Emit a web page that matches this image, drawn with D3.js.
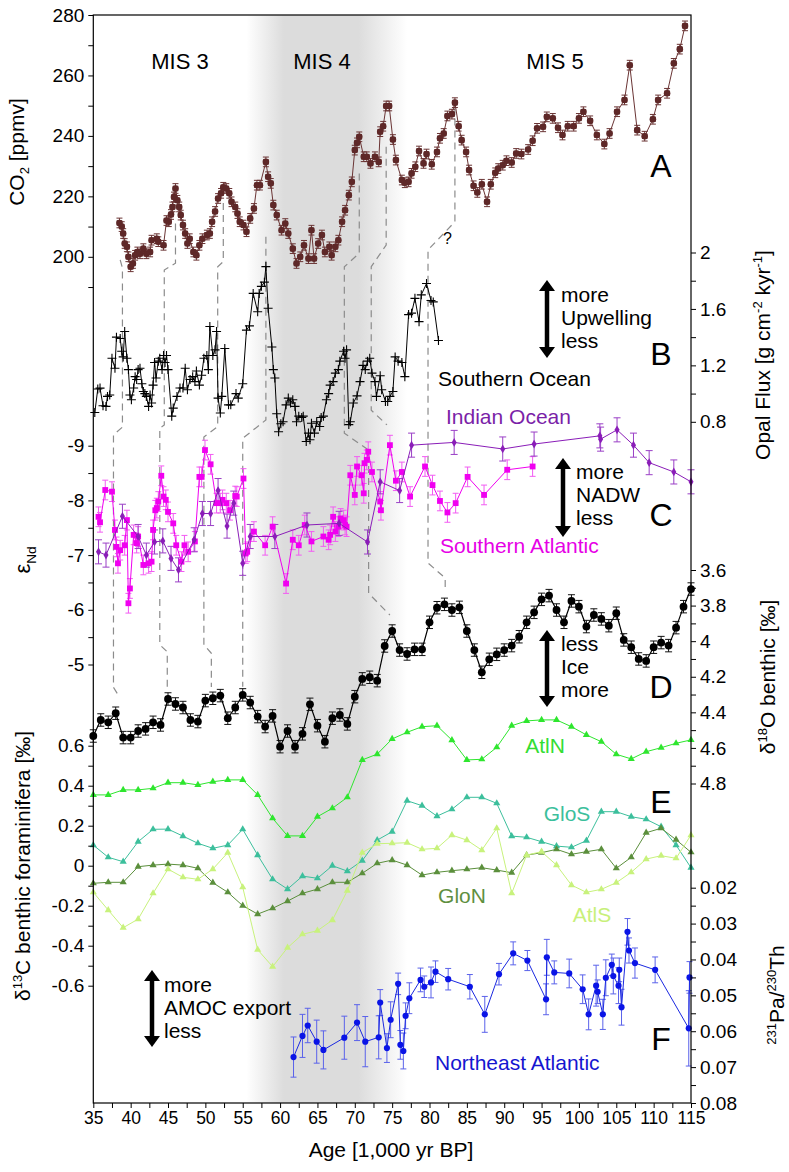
<!DOCTYPE html>
<html><head><meta charset="utf-8">
<script src="https://cdn.jsdelivr.net/npm/d3@7"></script>
<style>
body{margin:0;background:#fff}
text{font-family:"Liberation Sans",Arial,Helvetica,sans-serif;fill:#000}
</style>
</head><body>
<svg id="c" width="789" height="1172"></svg>
<script>
// ---------------- DATA ----------------
// Panel A: CO2 [ppmv] vs age (kyr BP)
const co2 = [[38.5,211.2],[38.8,210],[39.0,207.7],[39.2,204.4],[39.5,203.3],[39.7,200],[40.0,196.7],[40.3,197.8],[40.6,200.5],[40.9,201.6],[41.25,201],[41.7,202.7],[42.1,201],[42.6,201.6],[42.8,205.5],[43.5,206],[43.7,205],[44.4,203.8],[44.8,212],[45.1,211.6],[45.4,214],[45.6,216.5],[45.8,219.8],[46.0,222.6],[46.25,218.7],[46.5,216.5],[46.7,213.8],[47.0,210.5],[47.3,207.7],[47.6,204.4],[47.9,206],[48.4,201.6],[48.8,200.5],[49.2,203.8],[49.6,206],[50.2,207.2],[50.6,207.7],[50.9,211.6],[51.3,215],[51.7,219.3],[52.1,221],[52.4,223],[52.8,222.6],[53.2,221],[53.5,218.2],[54.0,216.5],[54.3,214.3],[54.6,211.6],[55.1,210.5],[55.5,208.3],[56.0,212.7],[56.5,216],[56.9,223.7],[57.3,223.7],[58.1,231.4],[58.4,226.5],[58.75,224.3],[59.1,217.1],[59.55,213.8],[60.2,208.8],[60.7,211],[61.1,207.7],[61.7,202.7],[62.2,197.8],[62.7,200],[63.2,203.8],[63.8,199.4],[64.2,208.8],[64.55,199.4],[65.1,204.4],[65.6,207.2],[66.0,201.6],[66.6,203.3],[66.9,200.5],[67.4,203.3],[67.8,205.5],[68.3,211.6],[68.7,215.4],[69.2,220.4],[69.6,224.8],[70.0,235.3],[70.3,237.7],[70.6,239.7],[71.2,233.1],[71.6,233.1],[72.1,230.9],[72.7,233.1],[73.2,231.4],[73.4,241.4],[73.8,243.2],[74.2,249.9],[74.6,249.9],[75.1,238.8],[75.5,232],[76.3,225.4],[76.7,224.5],[77.2,224.8],[77.6,227.6],[78.1,229.8],[78.6,235],[79.2,230.9],[79.6,234],[80.3,230.6],[81.0,234.7],[81.4,239.2],[81.9,240.8],[82.4,246.6],[83.0,247.2],[83.4,251],[83.9,243.2],[84.3,238.6],[84.9,234.7],[85.3,228.7],[85.9,223.5],[86.4,221.3],[87.0,224],[87.7,218.2],[88.2,224],[88.8,227.8],[89.2,229.2],[89.8,230.3],[90.3,231.8],[91.0,231.2],[91.6,234.2],[92.3,234],[93.2,235.5],[93.8,238.4],[94.4,242.5],[95.2,243],[95.7,246.3],[96.5,245.8],[97.2,242.7],[97.8,240.3],[98.5,243.2],[99.3,243.2],[100.0,245.8],[100.6,248],[101.5,245],[102.4,240.3],[103.4,237.3],[104.1,240.8],[105.1,248],[106.1,251.9],[106.8,263.4],[107.8,241.9],[108.8,239.9],[109.9,245.5],[110.6,251.9],[111.8,254.1],[112.7,264],[113.5,268.7],[114.2,276.4]];
const CO2_ERR = 1.6;

// Panel B: Southern Ocean opal flux [g cm-2 kyr-1]
const opal = [[35.2,0.866],[35.6,1.032],[35.9,1.039],[36.3,0.914],[36.7,0.909],[36.9,0.98],[37.2,0.99],[37.5,1.25],[37.9,1.18],[38.1,1.40],[38.6,1.39],[38.8,1.30],[39.0,1.26],[39.2,1.44],[39.5,1.25],[39.7,1.17],[39.9,0.99],[40.1,0.956],[40.4,1.04],[40.6,1.12],[40.8,1.10],[41.0,1.17],[41.25,1.18],[41.5,1.07],[41.7,1.015],[41.9,1.0],[42.1,0.98],[42.4,0.909],[42.6,0.99],[42.8,0.933],[43.0,1.06],[43.2,1.22],[43.4,1.11],[43.7,1.23],[43.9,1.25],[44.2,1.17],[44.4,1.27],[44.6,1.22],[44.8,1.27],[45.0,1.17],[45.5,0.84],[45.7,0.897],[46.2,0.98],[46.6,1.04],[47.0,1.04],[47.3,1.18],[47.6,1.027],[47.95,1.10],[48.3,1.12],[48.6,1.085],[48.8,1.16],[49.2,1.06],[49.5,1.13],[49.8,1.25],[50.2,1.27],[50.4,1.17],[50.6,1.475],[51.0,1.27],[51.3,1.31],[51.5,1.44],[51.7,0.968],[52.0,0.862],[52.2,0.98],[52.6,1.32],[53.1,0.92],[53.4,0.92],[54.1,1.0],[54.4,0.968],[55.0,1.07],[55.5,1.45],[55.9,1.48],[56.4,1.71],[57.0,1.58],[57.2,1.71],[57.5,1.76],[57.9,1.79],[58.1,1.90],[58.4,1.605],[58.9,1.33],[59.1,1.17],[59.3,1.11],[59.55,0.857],[59.8,0.73],[60.1,0.786],[60.4,0.80],[60.8,0.92],[61.1,0.968],[61.4,0.933],[61.7,0.956],[62.0,0.909],[62.2,0.80],[62.5,0.84],[62.9,0.83],[63.1,0.84],[63.5,0.66],[63.8,0.72],[64.0,0.673],[64.2,0.79],[64.6,0.72],[64.9,0.80],[65.3,0.767],[65.5,0.83],[65.8,0.84],[66.2,0.956],[66.5,1.0],[66.7,1.06],[67.1,1.085],[67.4,1.145],[67.8,1.17],[68.0,1.23],[68.5,1.30],[68.7,1.25],[68.9,1.31],[69.2,0.78],[69.4,0.80],[69.8,0.933],[70.3,0.984],[70.7,1.085],[71.1,1.20],[71.4,1.17],[71.7,1.23],[72.0,1.25],[72.3,1.145],[72.7,1.085],[72.9,0.98],[73.4,1.126],[73.6,1.027],[74.1,0.944],[74.4,0.944],[74.7,0.98],[75.1,1.015],[75.4,1.26],[75.8,1.23],[76.3,1.22],[76.7,1.12],[77.2,1.56],[77.6,1.57],[78.05,1.675],[78.6,1.51],[78.9,1.70],[79.6,1.78],[80.2,1.66],[80.5,1.65],[81.2,1.376]];

// Panel C: eNd, Southern Atlantic and Indian Ocean
const southAtl = [[35.7,-7.70],[35.9,-7.60],[36.6,-8.19],[37.5,-8.16],[37.9,-7.46],[38.1,-7.15],[38.3,-6.85],[38.6,-7.09],[39.2,-7.18],[39.5,-7.64],[39.7,-6.12],[39.9,-6.39],[40.4,-7.37],[40.8,-7.22],[41.0,-7.34],[41.7,-6.82],[42.4,-6.85],[42.8,-6.88],[43.0,-7.46],[43.3,-7.82],[43.5,-7.86],[43.7,-7.98],[44.1,-8.45],[44.4,-8.07],[44.7,-8.01],[45.0,-7.79],[45.7,-7.58],[46.1,-7.18],[46.8,-6.88],[47.2,-7.18],[47.7,-7.06],[48.6,-7.25],[49.2,-8.43],[49.5,-8.43],[49.95,-8.92],[50.7,-8.66],[51.5,-7.95],[52.0,-7.95],[52.3,-8.01],[52.8,-7.95],[53.3,-7.82],[54.0,-8.08],[54.2,-8.07],[55.1,-8.40],[55.4,-7.03],[55.6,-7.06],[56.5,-7.43],[58.0,-7.18],[59.0,-7.52],[60.8,-6.48],[61.7,-7.28],[62.5,-7.18],[63.3,-7.55],[64.2,-7.25],[65.8,-7.34],[66.5,-7.28],[66.7,-7.37],[67.1,-7.70],[67.4,-7.43],[67.8,-7.52],[68.1,-7.67],[68.5,-7.64],[68.7,-7.55],[68.9,-7.52],[69.4,-8.46],[70.0,-8.10],[70.3,-8.62],[70.9,-8.46],[71.2,-8.13],[71.3,-8.68],[71.6,-8.74],[71.8,-8.89],[72.3,-8.52],[73.4,-7.98],[73.5,-7.82],[74.7,-9.01],[75.5,-8.36],[76.3,-8.52],[77.4,-8.07],[79.4,-8.62],[80.4,-8.28],[81.4,-7.99],[82.4,-7.78],[83.5,-7.95],[85.1,-8.43],[87.3,-8.10],[90.4,-8.56],[93.8,-8.62]];
const SA_ERR = 0.18;
const indian = [[35.7,-7.06],[36.7,-7.00],[38.9,-7.71],[41.0,-7.34],[42.1,-7.00],[43.2,-7.24],[44.3,-7.26],[45.4,-6.94],[46.4,-6.73],[48.5,-7.28],[49.6,-7.76],[50.7,-7.76],[51.7,-8.18],[52.9,-7.53],[53.8,-7.95],[55.0,-6.85],[56.0,-7.34],[59.3,-7.34],[63.6,-7.55],[67.9,-7.58],[71.7,-7.24],[73.4,-8.34],[76.0,-8.18],[77.6,-9.01],[83.3,-9.06],[89.8,-8.94],[94.0,-9.03],[102.8,-9.18],[102.9,-9.12],[105.1,-9.29],[107.3,-9.01],[109.4,-8.69],[112.7,-8.52],[115.0,-8.34]];
const IO_ERR = 0.22;

// Panel D: benthic d18O [permil]
const d18o = [[35,4.533],[36,4.443],[37,4.456],[38,4.405],[39,4.542],[40,4.542],[41,4.505],[42,4.493],[43,4.456],[44,4.471],[45,4.325],[46,4.353],[47,4.373],[48,4.443],[49,4.452],[50,4.334],[51,4.321],[52,4.306],[53,4.433],[54,4.373],[55,4.302],[56,4.345],[57,4.424],[58,4.48],[59,4.42],[60,4.593],[61,4.505],[62,4.593],[63,4.521],[64,4.355],[65,4.475],[66,4.565],[67,4.433],[68,4.415],[69,4.465],[70,4.312],[71,4.212],[72,4.203],[73,4.222],[74,4.027],[75,3.943],[76,4.05],[77,4.072],[78,4.046],[79,4.046],[80,3.894],[81,3.812],[82,3.793],[83,3.825],[84,3.81],[85,3.943],[86,4.05],[87,4.175],[88,4.102],[89,4.074],[90,4.05],[91,4.025],[92,3.975],[93,3.894],[94,3.838],[95,3.765],[96,3.744],[97,3.825],[98,3.894],[99,3.774],[100,3.806],[101,3.918],[102,3.853],[103,3.875],[104,3.913],[105,3.843],[106,3.993],[107,4.034],[108,4.1],[109,4.111],[110,4.034],[111,4.008],[112,4.025],[113,3.924],[114,3.806],[115,3.707]];
const D18_ERR = 0.035;

// Panel E: benthic d13C [permil] stacks
const E_AGES = [35,37,39,41,43,45,47,49,51,53,55,57,59,61,63,65,67,69,71,73,75,77,79,81,83,85,87,89,91,93,95,97,99,101,103,105,107,109,111,113,115];
const atlN = [0.354,0.354,0.379,0.379,0.387,0.415,0.415,0.404,0.42,0.429,0.429,0.354,0.237,0.149,0.149,0.245,0.287,0.342,0.529,0.558,0.634,0.667,0.695,0.70,0.628,0.529,0.532,0.592,0.70,0.724,0.729,0.729,0.695,0.654,0.62,0.557,0.534,0.57,0.59,0.612,0.629];
const gloS = [0.103,0.042,0.02,0.12,0.182,0.183,0.148,0.112,0.087,0.103,0.182,0.053,-0.068,-0.117,-0.052,-0.063,0.0,-0.027,0.025,0.128,0.17,0.325,0.30,0.248,0.282,0.342,0.342,0.312,0.148,0.142,0.12,0.098,0.092,0.125,0.27,0.27,0.245,0.232,0.195,0.103,-0.01];
const gloN = [-0.088,-0.083,-0.083,-0.005,0.003,0.008,0.003,-0.013,-0.085,-0.133,-0.2,-0.242,-0.213,-0.177,-0.138,-0.117,-0.083,-0.083,-0.038,0.012,0.028,0.003,-0.047,-0.033,-0.025,-0.018,-0.01,-0.022,-0.035,0.053,0.065,0.082,0.057,0.07,0.082,-0.013,0.042,0.165,0.187,0.13,0.067];
const atlS = [-0.133,-0.222,-0.31,-0.267,-0.138,-0.017,-0.058,-0.068,-0.017,0.065,-0.108,-0.42,-0.505,-0.41,-0.343,-0.325,-0.272,-0.125,0.065,0.11,0.112,0.115,0.082,0.087,0.153,0.128,0.078,0.187,-0.138,0.053,0.07,0.003,-0.097,-0.133,-0.118,-0.085,-0.033,0.033,0.05,0.037,0.153];

// Panel F: Northeast Atlantic 231Pa/230Th [age, value, error]
const paTh = [[61.8,0.0672,0.0056],[63.0,0.0613,0.006],[63.7,0.0584,0.0048],[64.9,0.0629,0.006],[65.8,0.0652,0.0053],[68.6,0.0618,0.006],[70.3,0.0576,0.005],[71.4,0.0629,0.007],[73.2,0.0617,0.006],[73.4,0.052,0.0036],[74.3,0.0647,0.004],[74.8,0.0568,0.005],[75.8,0.0468,0.003],[76.1,0.0638,0.004],[76.5,0.0655,0.005],[76.8,0.0557,0.0036],[77.3,0.0508,0.0043],[78.8,0.0457,0.0033],[79.3,0.0476,0.003],[80.2,0.0464,0.0043],[80.8,0.0434,0.003],[82.5,0.0455,0.003],[85.4,0.0476,0.0034],[87.4,0.0553,0.005],[89.3,0.0441,0.003],[91.2,0.0383,0.0032],[93.1,0.0403,0.0028],[95.6,0.0511,0.0043],[95.7,0.0394,0.005],[96.7,0.0436,0.0032],[98.7,0.0439,0.004],[100.5,0.0483,0.004],[101.3,0.0553,0.0043],[102.3,0.0473,0.0057],[102.5,0.049,0.0033],[103.2,0.0553,0.0042],[103.6,0.0451,0.005],[104.4,0.0415,0.003],[104.6,0.0446,0.005],[105.3,0.0473,0.005],[105.4,0.0429,0.0033],[105.7,0.0533,0.005],[106.5,0.0323,0.0037],[106.7,0.0375,0.0035],[107.5,0.041,0.0042],[110.2,0.0429,0.0036],[114.7,0.0592,0.0105],[114.8,0.045,0.0044]];

// Dashed correlation lines: [age, axis, value]
const connectors = [
  [[38.6,'co2',199.0],[38.9,'co2',196.3],[38.9,'nd',-9.34],[37.7,'nd',-9.2],[37.7,'d18',4.26],[38.3,'d18',4.30]],
  [[46.0,'co2',211],[46.0,'co2',197.9],[44.5,'co2',195.6],[44.5,'nd',-9.38],[43.9,'nd',-9.32],[43.9,'d18',4.02],[44.9,'d18',4.06],[44.9,'d18',4.275]],
  [[52.4,'co2',217.8],[52.4,'co2',198.4],[51.65,'co2',196.7],[51.65,'nd',-9.35],[49.8,'nd',-9.16],[49.8,'d18',4.02],[50.8,'d18',4.068],[50.8,'d18',4.258]],
  [[58.1,'co2',206.6],[58.1,'nd',-9.47],[55.0,'nd',-9.135],[55.0,'d18',4.256]],
  [[70.6,'co2',227.6],[70.6,'co2',201.2],[68.6,'co2',196.7],[68.6,'nd',-9.23],[71.85,'nd',-8.92],[71.85,'d18',3.731],[74.7,'d18',3.853]],
  [[74.2,'co2',236.4],[74.2,'co2',203.9],[72.2,'co2',196.7],[72.2,'nd',-9.65],[74.3,'nd',-9.38]],
  [[83.4,'co2',249.7],[83.4,'co2',211.6],[79.8,'opal',2.018],[79.8,'d18',3.561],[82.1,'d18',3.645],[82.1,'d18',3.70]]
];

// Tick values / labels
const AGE_TICKS = [35,37.5,40,42.5,45,47.5,50,52.5,55,57.5,60,62.5,65,67.5,70,72.5,75,77.5,80,82.5,85,87.5,90,92.5,95,97.5,100,102.5,105,107.5,110,112.5,115];
const AGE_LABELS = [35,40,45,50,55,60,65,70,75,80,85,90,95,100,105,110,115];
const CO2_TICKS = [190,200,210,220,230,240,250,260,270,280];
const CO2_LABELS = [200,220,240,260,280];
const ND_TICKS = [-9,-8.5,-8,-7.5,-7,-6.5,-6,-5.5,-5];
const ND_LABELS = [-9,-8,-7,-6,-5];
const C13_TICKS = [-0.6,-0.5,-0.4,-0.3,-0.2,-0.1,0,0.1,0.2,0.3,0.4,0.5,0.6];
const C13_LABELS = [-0.6,-0.4,-0.2,0,0.2,0.4,0.6];
const OPAL_TICKS = [0.8,1,1.2,1.4,1.6,1.8,2];
const OPAL_LABELS = [0.8,1.2,1.6,2];
const O18_TICKS = [3.6,3.7,3.8,3.9,4,4.1,4.2,4.3,4.4,4.5,4.6,4.7,4.8];
const O18_LABELS = [3.6,3.8,4,4.2,4.4,4.6,4.8];
const PA_TICKS = [0.02,0.025,0.03,0.035,0.04,0.045,0.05,0.055,0.06,0.065,0.07,0.075,0.08];
const PA_LABELS = [0.02,0.03,0.04,0.05,0.06,0.07,0.08];

// ---------------- DRAWING ----------------
const L = 93.3, R = 691, T = 15, B = 1103;
const svg = d3.select("#c");
svg.append("rect").attr("width",789).attr("height",1172).attr("fill","#fff");

const x = d3.scaleLinear().domain([35,115]).range([L,R]);
const yCO2 = d3.scaleLinear().domain([200,280]).range([256.8,15]);
const yOpal = d3.scaleLinear().domain([0.8,2]).range([421.8,252.5]);
const yNd = d3.scaleLinear().domain([-9,-5]).range([445.7,664.5]);
const yO18 = d3.scaleLinear().domain([3.6,4.8]).range([570,783.5]);
const yC13 = d3.scaleLinear().domain([-0.6,0.6]).range([985.7,745.7]);
const yPa = d3.scaleLinear().domain([0.02,0.08]).range([887.7,1103]);
const scales = {co2:yCO2, opal:yOpal, nd:yNd, d18:yO18};

// MIS 4 shading
const defs = svg.append("defs");
const g0 = x(55.5), g1 = x(77);
const grad = defs.append("linearGradient").attr("id","mis4").attr("gradientUnits","userSpaceOnUse")
  .attr("x1",g0).attr("x2",g1).attr("y1",0).attr("y2",0);
[[0,0],[(60.5-55.5)/21.5,1],[(70.5-55.5)/21.5,1],[1,0]].forEach(s=>{
  grad.append("stop").attr("offset",s[0]).attr("stop-color","#dcdcdc").attr("stop-opacity",s[1]);
});
svg.append("rect").attr("x",g0).attr("y",T).attr("width",g1-g0).attr("height",B-T).attr("fill","url(#mis4)");

// connectors
const cl = svg.append("g");
connectors.forEach(c=>{
  cl.append("path").attr("d", d3.line()(c.map(p=>[x(p[0]), scales[p[1]](p[2])])))
    .attr("fill","none").attr("stroke","#8c8c8c").attr("stroke-width",1.2).attr("stroke-dasharray","7,5");
});
svg.append("text").attr("x",443).attr("y",244).attr("font-size",16).text("?");

// helpers
function errBars(g, data, ys, errFn, color, cap, sw){
  data.forEach(d=>{
    const e = errFn(d);
    const y1 = ys(d[1]-e), y2 = ys(d[1]+e), xx = x(d[0]);
    g.append("line").attr("x1",xx).attr("x2",xx).attr("y1",y1).attr("y2",y2).attr("stroke",color).attr("stroke-width",sw||1);
    g.append("line").attr("x1",xx-cap).attr("x2",xx+cap).attr("y1",y1).attr("y2",y1).attr("stroke",color).attr("stroke-width",sw||1);
    g.append("line").attr("x1",xx-cap).attr("x2",xx+cap).attr("y1",y2).attr("y2",y2).attr("stroke",color).attr("stroke-width",sw||1);
  });
}
function series(data, ys, color, width){
  svg.append("path").attr("d", d3.line().x(d=>x(d[0])).y(d=>ys(d[1]))(data))
    .attr("fill","none").attr("stroke",color).attr("stroke-width",width||1);
}
function markers(data, ys, type, size, color, stroke){
  const sym = d3.symbol().type(type).size(size);
  svg.append("g").selectAll("path").data(data).join("path")
    .attr("transform",d=>`translate(${x(d[0])},${ys(d[1])})`)
    .attr("d",sym).attr("fill",color).attr("stroke",stroke||"none");
}

// Panel A
const gA = svg.append("g");
errBars(gA, co2, yCO2, ()=>CO2_ERR, "#6a3434", 3, 1);
series(co2, yCO2, "#6a3434", 1);
markers(co2, yCO2, d3.symbolSquare, 30, "#5e2828");
markers(co2, yCO2, d3.symbolCircle, 34, "#5e2828");

// Panel B
series(opal, yOpal, "#000", 1);
svg.append("g").selectAll("path").data(opal).join("path")
  .attr("transform",d=>`translate(${x(d[0])},${yOpal(d[1])})`)
  .attr("d","M-4.5,0H4.5M0,-4.5V4.5").attr("stroke","#000").attr("stroke-width",1.1);

// Panel C
const gC = svg.append("g");
errBars(gC, southAtl, yNd, ()=>SA_ERR, "#f25cf2", 3, 1);
series(southAtl, yNd, "#f000f0", 1);
markers(southAtl, yNd, d3.symbolSquare, 34, "#f000f0");
errBars(gC, indian, yNd, ()=>IO_ERR, "#9a3fc6", 3.5, 1);
series(indian, yNd, "#8a1db8", 1);
markers(indian, yNd, d3.symbolDiamond, 22, "#8a1db8");

// Panel D
const gD = svg.append("g");
errBars(gD, d18o, yO18, ()=>D18_ERR, "#111", 3.5, 1);
series(d18o, yO18, "#000", 1.2);
markers(d18o, yO18, d3.symbolCircle, 48, "#000");

// Panel E
const eSeries = [[atlN,"#2ee62e"],[gloS,"#3cbf9c"],[gloN,"#5b8f3c"],[atlS,"#c8f27c"]];
eSeries.forEach(s=>{
  const data = E_AGES.map((a,i)=>[a,s[0][i]]);
  series(data, yC13, s[1], 1);
  markers(data, yC13, d3.symbolTriangle, 22, s[1]);
});

// Panel F
const gF = svg.append("g");
errBars(gF, paTh, yPa, d=>d[2], "#5a62ea", 3, 1);
series(paTh, yPa, "#1a28e0", 1);
markers(paTh, yPa, d3.symbolCircle, 30, "#0a14e6");

// frame
svg.append("rect").attr("x",L).attr("y",T).attr("width",R-L).attr("height",B-T)
  .attr("fill","none").attr("stroke","#000").attr("stroke-width",1.2);

// axes
const fmt = d => String(+d.toFixed(3));
function axis(gen, scale, ticks, labels, tx, ty, fs){
  const a = gen(scale).tickValues(ticks).tickSize(5).tickPadding(4)
    .tickFormat(d => labels.some(l=>Math.abs(l-d)<1e-9) ? fmt(d) : "");
  const g = svg.append("g").attr("transform",`translate(${tx},${ty})`).call(a);
  g.select(".domain").remove();
  g.selectAll("text").attr("font-size",fs).attr("font-family","'Liberation Sans',Arial,sans-serif").attr("fill","#000");
  g.selectAll("line").attr("stroke","#000");
  return g;
}
axis(d3.axisLeft, yCO2, CO2_TICKS, CO2_LABELS, L, 0, 19);
axis(d3.axisLeft, yNd, ND_TICKS, ND_LABELS, L, 0, 19);
axis(d3.axisLeft, yC13, C13_TICKS, C13_LABELS, L, 0, 19);
axis(d3.axisRight, yOpal, OPAL_TICKS, OPAL_LABELS, R, 0, 19);
axis(d3.axisRight, yO18, O18_TICKS, O18_LABELS, R, 0, 19);
axis(d3.axisRight, yPa, PA_TICKS, PA_LABELS, R, 0, 19);
const ax = axis(d3.axisBottom, x, AGE_TICKS, AGE_LABELS, 0, B, 17.5);

// axis titles
function rotTitle(xx, yy, parts, fs){
  const t = svg.append("text").attr("transform",`translate(${xx},${yy}) rotate(-90)`)
    .attr("text-anchor","middle").attr("font-size",fs);
  parts.forEach(p=>{
    const s = t.append("tspan").text(p[0]);
    if(p[1]==="sub") s.attr("font-size",fs*0.62).attr("dy",fs*0.25);
    else if(p[1]==="sup") s.attr("font-size",fs*0.62).attr("dy",-fs*0.38);
    else if(p[1]==="back") s.attr("dy",p[2]*fs);
  });
  return t;
}
rotTitle(24, 152, [["CO"],["2","sub"],[" [ppmv]","back",-0.25]], 21);
rotTitle(30, 560, [["ε"],["Nd","sub"]], 22);
rotTitle(30, 866, [["δ"],["13","sup"],["C benthic foraminifera [‰]","back",0.38]], 21);
rotTitle(770, 355, [["Opal Flux [g cm"],["-2","sup"],[" kyr","back",0.38],["-1","sup"],["]","back",0.38]], 21);
rotTitle(775, 677, [["δ"],["18","sup"],["O benthic [‰]","back",0.38]], 21);
rotTitle(784, 995, [["231","sup"],["Pa/","back",0.38],["230","sup"],["Th","back",0.38]], 21);
svg.append("text").attr("x",391).attr("y",1157).attr("text-anchor","middle").attr("font-size",21).text("Age [1,000 yr BP]");

// MIS labels
[["MIS 3",180],["MIS 4",322],["MIS 5",555]].forEach(m=>{
  svg.append("text").attr("x",m[1]).attr("y",68.5).attr("text-anchor","middle").attr("font-size",22).text(m[0]);
});
// panel letters
[["A",177],["B",365],["C",526],["D",698],["E",813],["F",1050]].forEach(p=>{
  svg.append("text").attr("x",661).attr("y",p[1]).attr("text-anchor","middle").attr("font-size",32).text(p[0]);
});
// series labels
const lab = (t,xx,yy,c,anchor)=>svg.append("text").attr("x",xx).attr("y",yy).attr("font-size",21)
  .attr("text-anchor",anchor||"start").style("fill",c).text(t);
lab("Southern Ocean",438,386,"#000");
lab("Indian Ocean",446,424,"#7b1fa8");
lab("Southern Atlantic",440,553,"#e600e6");
lab("AtlN",545,753,"#33dd33","middle");
lab("GloS",567,821,"#3cbf9c","middle");
lab("GloN",462,903,"#5f8f3f","middle");
lab("AtlS",592,922,"#c8f07a","middle");
lab("Northeast Atlantic",435,1070,"#1515d0");
// arrows with text
function dArrow(xx, y1, y2){
  const hw = 8, hl = 11;
  svg.append("line").attr("x1",xx).attr("x2",xx).attr("y1",y1+hl-1).attr("y2",y2-hl+1).attr("stroke","#000").attr("stroke-width",4.5);
  svg.append("path").attr("d",`M${xx},${y1}L${xx-hw},${y1+hl}L${xx+hw},${y1+hl}Z`).attr("fill","#000");
  svg.append("path").attr("d",`M${xx},${y2}L${xx-hw},${y2-hl}L${xx+hw},${y2-hl}Z`).attr("fill","#000");
}
function block(lines, xx, y0, dy){
  lines.forEach((t,i)=>svg.append("text").attr("x",xx).attr("y",y0+i*dy).attr("font-size",21).text(t));
}
dArrow(547,280,358); block(["more","Upwelling","less"],561,301.5,23.3);
dArrow(563,458,537); block(["more","NADW","less"],576,478.5,23.3);
dArrow(547,630,707); block(["less","Ice","more"],561,650.5,23.3);
dArrow(152,970,1047); block(["more","AMOC export","less"],164,991.5,23.3);
</script>
</body></html>
